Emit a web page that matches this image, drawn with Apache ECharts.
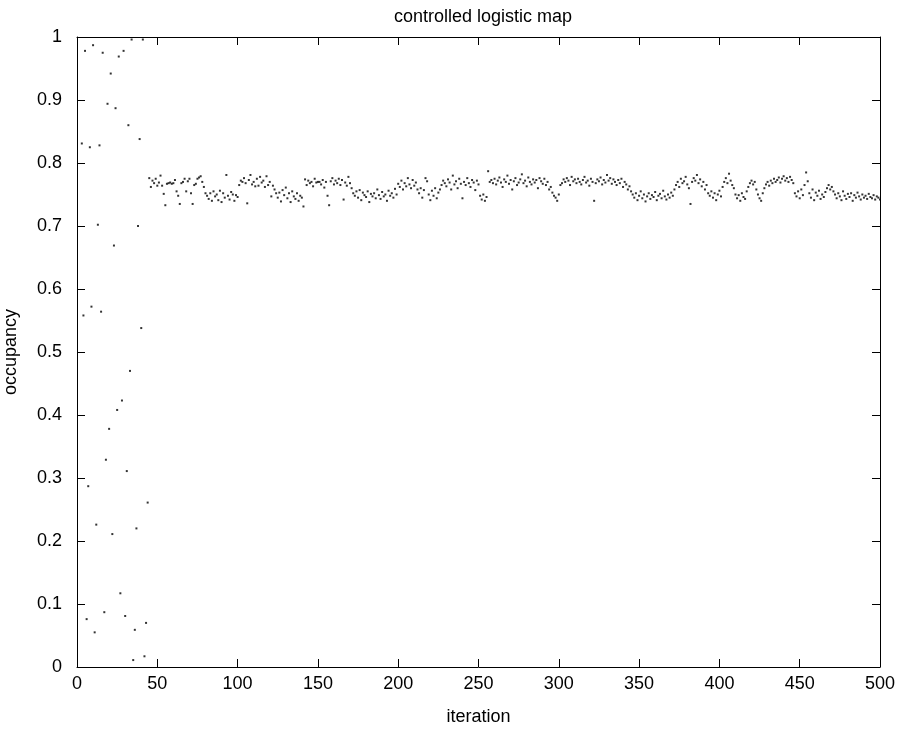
<!DOCTYPE html>
<html>
<head>
<meta charset="utf-8">
<script src="https://cdn.jsdelivr.net/npm/echarts@6/dist/echarts.min.js"></script>
<style>
  html, body { margin: 0; padding: 0; background: #fff; }
  #main { width: 907px; height: 735px; }
</style>
</head>
<body>
<div id="main"></div>
<script>
// first iteration that shows a point
var firstIteration = 3;

// chaotic phase, iterations 3..44
var transient = [
    0.831, 0.558, 0.978, 0.076, 0.287, 0.825, 0.572, 0.987, 0.055, 0.226,
    0.702, 0.828, 0.564, 0.975, 0.087, 0.329, 0.894, 0.378, 0.942, 0.211,
    0.669, 0.887, 0.408, 0.969, 0.117, 0.423, 0.978, 0.081, 0.311, 0.860,
    0.470, 0.996, 0.011, 0.059, 0.220, 0.700, 0.838, 0.538, 0.996, 0.017,
    0.070, 0.261
];

// controlled phase, iterations 45..500, in pieces
var controlledA = [ // 45-122
    0.776, 0.762, 0.772, 0.768, 0.775, 0.764, 0.769, 0.780, 0.764, 0.751,
    0.733, 0.767, 0.768, 0.769, 0.767, 0.768, 0.773, 0.755, 0.748, 0.735,
    0.768, 0.770, 0.775, 0.755, 0.771, 0.775, 0.752, 0.735, 0.765, 0.767,
    0.775, 0.777, 0.779, 0.770, 0.762, 0.752,
    0.748, 0.743, 0.752, 0.740, 0.755, 0.747, 0.750, 0.741, 0.756, 0.738,
    0.752, 0.745, 0.781, 0.748, 0.742, 0.754, 0.750, 0.740, 0.749, 0.746,
    0.765, 0.772, 0.770, 0.776, 0.768, 0.736, 0.773, 0.781, 0.766, 0.770,
    0.763, 0.775, 0.764, 0.778, 0.769, 0.772, 0.762, 0.779, 0.765, 0.770,
    0.747, 0.764
];
var controlledB = [ // 123-226
    0.758, 0.752, 0.745, 0.753, 0.739, 0.757, 0.749, 0.761, 0.744, 0.752,
    0.738, 0.755, 0.747, 0.743, 0.752, 0.740, 0.748, 0.745, 0.731,
    0.774, 0.765, 0.772, 0.768, 0.770, 0.763, 0.775, 0.769, 0.770, 0.770,
    0.766, 0.773, 0.761, 0.770, 0.748, 0.733, 0.771, 0.776, 0.766, 0.772,
    0.768, 0.775, 0.765, 0.773, 0.742, 0.769, 0.764, 0.778, 0.768,
    0.760, 0.752, 0.748, 0.755, 0.745, 0.757, 0.741, 0.753, 0.749, 0.746,
    0.755, 0.738, 0.751, 0.747, 0.752, 0.744, 0.758, 0.749, 0.743, 0.754,
    0.747, 0.750, 0.740, 0.756, 0.748, 0.752, 0.745, 0.759, 0.750,
    0.767, 0.762, 0.772, 0.758, 0.768, 0.763, 0.776, 0.766, 0.760, 0.773,
    0.764, 0.769, 0.758,
    0.752, 0.760, 0.745, 0.757, 0.776, 0.771, 0.750, 0.741, 0.756, 0.748,
    0.760, 0.744, 0.753, 0.758
];
var controlledC = [ // 227-345
    0.765, 0.772, 0.768, 0.763, 0.774, 0.769, 0.758, 0.780, 0.766, 0.771,
    0.760, 0.775, 0.767, 0.744, 0.770, 0.765, 0.776, 0.768, 0.762, 0.773,
    0.769, 0.757, 0.772, 0.766,
    0.748, 0.742, 0.750, 0.740, 0.746,
    0.787, 0.770, 0.773, 0.768, 0.775, 0.766, 0.772, 0.777, 0.769, 0.762,
    0.774, 0.770, 0.780, 0.767, 0.773, 0.758, 0.771, 0.776, 0.765, 0.769,
    0.774, 0.782, 0.768, 0.772, 0.763, 0.777, 0.770, 0.766, 0.774, 0.769,
    0.773, 0.760, 0.776, 0.771, 0.767, 0.775, 0.765, 0.770, 0.758, 0.762,
    0.753, 0.748, 0.745,
    0.740, 0.750, 0.765,
    0.768, 0.774, 0.770, 0.776, 0.772, 0.765, 0.778, 0.771, 0.774, 0.768,
    0.775, 0.770, 0.766, 0.773, 0.778, 0.769, 0.772, 0.764, 0.775, 0.770,
    0.740, 0.768, 0.774, 0.771, 0.777, 0.766, 0.773, 0.769, 0.781, 0.772,
    0.776, 0.767, 0.774, 0.770, 0.765, 0.773, 0.768, 0.775, 0.762, 0.770,
    0.766, 0.758, 0.763, 0.755
];
var controlledD = [ // 346-500
    0.750, 0.745, 0.752, 0.741, 0.748, 0.755, 0.744, 0.750, 0.739, 0.747,
    0.752, 0.743, 0.749, 0.746, 0.754, 0.741, 0.748, 0.751, 0.744, 0.756,
    0.747, 0.742, 0.750, 0.745, 0.753, 0.748,
    0.758, 0.765, 0.770, 0.762, 0.775, 0.768, 0.771, 0.778, 0.766, 0.760,
    0.735, 0.770, 0.776, 0.772, 0.781, 0.768, 0.774, 0.763, 0.770, 0.758,
    0.765, 0.752,
    0.748, 0.755, 0.745, 0.752, 0.741, 0.750, 0.756, 0.747,
    0.762, 0.770, 0.776, 0.768, 0.783, 0.772, 0.765, 0.760,
    0.750, 0.744, 0.749, 0.740, 0.752, 0.746, 0.743, 0.755,
    0.762, 0.768, 0.772, 0.766, 0.770, 0.758,
    0.750, 0.744, 0.740, 0.752,
    0.760, 0.766, 0.770, 0.764, 0.772, 0.768, 0.775, 0.770, 0.773, 0.777,
    0.769, 0.775, 0.779, 0.772, 0.776, 0.770, 0.778, 0.773, 0.768,
    0.752, 0.747, 0.755, 0.744, 0.758, 0.749, 0.765, 0.785, 0.771, 0.752,
    0.745, 0.758, 0.741, 0.753, 0.748, 0.756, 0.743, 0.750, 0.746, 0.754,
    0.760, 0.765, 0.758, 0.762, 0.755,
    0.750, 0.744, 0.752, 0.747, 0.741, 0.755, 0.748, 0.743, 0.751, 0.746,
    0.752, 0.740, 0.749, 0.745, 0.753, 0.747, 0.742, 0.750, 0.745, 0.748,
    0.743, 0.751, 0.746, 0.744, 0.749, 0.742, 0.747, 0.745, 0.742
];

var occupancy = transient.concat(controlledA, controlledB, controlledC, controlledD);
var points = occupancy.map(function (v, i) {
    return [i + firstIteration, v];
});

var font = 'Liberation Sans, Arial, sans-serif';
var fs = 18;

var myChart = echarts.init(document.getElementById('main'), null, {renderer: 'canvas'});

var tickStyle = {inside: true, length: 8, lineStyle: {color: '#000', width: 1}};
var lineStyle = {show: true, onZero: false, lineStyle: {color: '#000', width: 1}};

option = {
    backgroundColor: '#fff',
    animation: false,
    title: {
        text: 'controlled logistic map',
        left: 478,
        top: 3,
        textAlign: 'center',
        textStyle: {fontFamily: font, fontSize: fs, fontWeight: 'normal', color: '#000'}
    },
    grid: {left: 77, right: 27, top: 37, bottom: 68, outerBoundsMode: 'none'},
    xAxis: [
        {
            type: 'value', min: 0, max: 500, interval: 50,
            name: 'iteration', nameLocation: 'middle', nameGap: 41,
            nameTextStyle: {fontFamily: font, fontSize: fs, color: '#000'},
            axisLine: lineStyle, axisTick: tickStyle,
            axisLabel: {fontFamily: font, fontSize: fs, color: '#000', margin: 8},
            splitLine: {show: false}
        },
        {
            type: 'value', min: 0, max: 500, interval: 50, position: 'top',
            axisLine: lineStyle, axisTick: tickStyle,
            axisLabel: {show: false}, splitLine: {show: false}
        }
    ],
    yAxis: [
        {
            type: 'value', min: 0, max: 1, interval: 0.1,
            name: 'occupancy', nameLocation: 'middle', nameGap: 57,
            nameTextStyle: {fontFamily: font, fontSize: fs, color: '#000'},
            axisLine: lineStyle, axisTick: tickStyle,
            axisLabel: {fontFamily: font, fontSize: fs, color: '#000', margin: 15},
            splitLine: {show: false}
        },
        {
            type: 'value', min: 0, max: 1, interval: 0.1, position: 'right',
            axisLine: lineStyle, axisTick: tickStyle,
            axisLabel: {show: false}, splitLine: {show: false}
        }
    ],
    series: [
        {
            name: 'occupancy',
            type: 'scatter',
            xAxisIndex: 0,
            yAxisIndex: 0,
            symbol: 'rect',
            symbolSize: 2,
            itemStyle: {color: '#000'},
            data: points
        }
    ]
};

myChart.setOption(option);
</script>
</body>
</html>
